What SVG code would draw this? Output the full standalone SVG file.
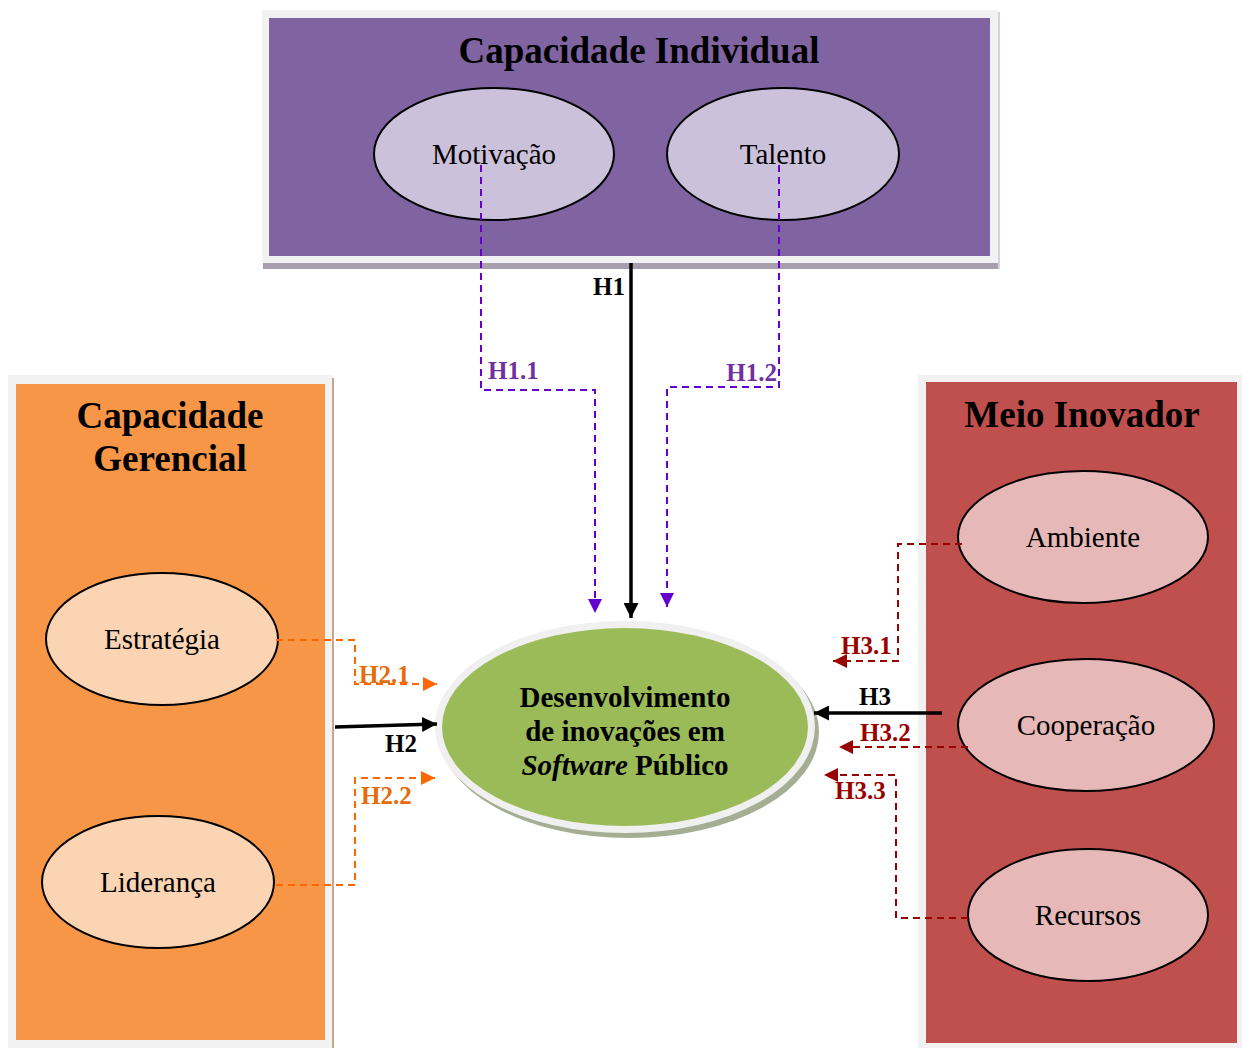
<svg xmlns="http://www.w3.org/2000/svg" width="1242" height="1048" viewBox="0 0 1242 1048">
  <style>
    .title { font-family: "Liberation Serif", "Times New Roman", serif; font-weight: bold; font-size: 37px; fill: #000; text-anchor: middle; }
    .item { font-family: "Liberation Serif", "Times New Roman", serif; font-size: 29px; fill: #000; text-anchor: middle; }
    .core { font-family: "Liberation Serif", "Times New Roman", serif; font-weight: bold; font-size: 29px; fill: #000; text-anchor: middle; }
    .lbl { font-family: "Liberation Serif", "Times New Roman", serif; font-weight: bold; font-size: 25px; }
    .frame { fill: #f2f2f2; }
    .node { stroke: #000; stroke-width: 2; }
    .solid { fill: none; stroke: #000; stroke-width: 3.5; }
    .dash { fill: none; stroke-width: 2; stroke-dasharray: 7 5; }
    .purple { stroke: #6600cc; }
    .orange { stroke: #ff6600; }
    .red { stroke: #990000; }
  </style>
  <defs>
    <marker id="arrBlack" markerUnits="userSpaceOnUse" viewBox="0 0 14 14" markerWidth="15" markerHeight="15" refX="14" refY="7" orient="auto">
      <path d="M0,0 L14,7 L0,14 z" fill="#000"/>
    </marker>
    <marker id="arrPurple" markerUnits="userSpaceOnUse" viewBox="0 0 14 14" markerWidth="14" markerHeight="14" refX="14" refY="7" orient="auto">
      <path d="M0,0 L14,7 L0,14 z" fill="#6600cc"/>
    </marker>
    <marker id="arrOrange" markerUnits="userSpaceOnUse" viewBox="0 0 14 14" markerWidth="14" markerHeight="14" refX="14" refY="7" orient="auto">
      <path d="M0,0 L14,7 L0,14 z" fill="#ff6600"/>
    </marker>
    <marker id="arrRed" markerUnits="userSpaceOnUse" viewBox="0 0 14 14" markerWidth="14" markerHeight="14" refX="14" refY="7" orient="auto">
      <path d="M0,0 L14,7 L0,14 z" fill="#990000"/>
    </marker>
  </defs>

  <rect width="1242" height="1048" fill="#ffffff"/>

  <!-- Capacidade Individual -->
  <g id="capacidade-individual">
    <rect x="263" y="263" width="737" height="6" fill="#a79fb0"/>
    <rect x="998" y="12" width="2" height="257" fill="#d8d0e0"/>
    <rect class="frame" x="262" y="10" width="736" height="253"/>
    <rect x="269" y="18" width="721" height="238" fill="#8064a2"/>
    <text class="title" x="639" y="63">Capacidade Individual</text>
  </g>
  <g id="motivacao">
    <ellipse class="node" cx="494" cy="154" rx="120" ry="66" fill="#ccc1da"/>
    <text class="item" x="494" y="164">Motivação</text>
  </g>
  <g id="talento">
    <ellipse class="node" cx="783" cy="154" rx="116" ry="66" fill="#ccc1da"/>
    <text class="item" x="783" y="164">Talento</text>
  </g>

  <!-- Capacidade Gerencial -->
  <g id="capacidade-gerencial">
    <rect class="frame" x="8" y="375" width="325" height="673"/>
    <rect x="332" y="378" width="2" height="670" fill="#c9a88a"/>
    <rect x="16" y="384" width="309" height="656" fill="#f79646"/>
    <text class="title" x="170" y="428">Capacidade</text>
    <text class="title" x="170" y="471">Gerencial</text>
  </g>
  <g id="estrategia">
    <ellipse class="node" cx="162" cy="639" rx="116" ry="66" fill="#fbd4b4"/>
    <text class="item" x="162" y="649">Estratégia</text>
  </g>
  <g id="lideranca">
    <ellipse class="node" cx="158" cy="882" rx="116" ry="66" fill="#fbd4b4"/>
    <text class="item" x="158" y="892">Liderança</text>
  </g>

  <!-- Meio Inovador -->
  <g id="meio-inovador">
    <rect class="frame" x="918" y="375" width="324" height="673"/>
    <rect x="926" y="382" width="311" height="661" fill="#c0504d"/>
    <text class="title" x="1082" y="427">Meio Inovador</text>
  </g>
  <g id="ambiente">
    <ellipse class="node" cx="1083" cy="537" rx="125" ry="66" fill="#e6b9b8"/>
    <text class="item" x="1083" y="547">Ambiente</text>
  </g>
  <g id="cooperacao">
    <ellipse class="node" cx="1086" cy="725" rx="128" ry="66" fill="#e6b9b8"/>
    <text class="item" x="1086" y="735">Cooperação</text>
  </g>
  <g id="recursos">
    <ellipse class="node" cx="1088" cy="915" rx="120" ry="66" fill="#e6b9b8"/>
    <text class="item" x="1088" y="925">Recursos</text>
  </g>

  <!-- Desenvolvimento de inovações em Software Público -->
  <g id="desenvolvimento">
    <ellipse cx="629" cy="732" rx="190" ry="106" fill="#a5ae93"/>
    <ellipse cx="625" cy="727" rx="190" ry="106" fill="#f0f0f0"/>
    <ellipse cx="625" cy="727" rx="183" ry="99" fill="#9bbb59"/>
    <text class="core" x="625" y="707">Desenvolvimento</text>
    <text class="core" x="625" y="741">de inovações em</text>
    <text class="core" x="625" y="775"><tspan font-style="italic">Software</tspan> Público</text>
  </g>

  <!-- Hypothesis connectors -->
  <g id="connectors">
    <!-- H1 -->
    <line class="solid" x1="631" y1="263" x2="631" y2="618" marker-end="url(#arrBlack)"/>
    <text class="lbl" x="625" y="295" text-anchor="end" fill="#000">H1</text>
    <path class="dash purple" d="M481,165 V390 H595 V613" marker-end="url(#arrPurple)"/>
    <text class="lbl" x="488" y="379" fill="#7030a0">H1.1</text>
    <path class="dash purple" d="M779,165 V387 H667 V607" marker-end="url(#arrPurple)"/>
    <text class="lbl" x="777" y="381" text-anchor="end" fill="#7030a0">H1.2</text>

    <!-- H2 -->
    <line class="solid" x1="335" y1="727" x2="437" y2="724" marker-end="url(#arrBlack)"/>
    <text class="lbl" x="401" y="752" text-anchor="middle" fill="#000">H2</text>
    <path class="dash orange" d="M276,640 H355 V684 H437" marker-end="url(#arrOrange)"/>
    <text class="lbl" x="359" y="683" fill="#e46c0a">H2.1</text>
    <path class="dash orange" d="M276,885 H355 V778 H435" marker-end="url(#arrOrange)"/>
    <text class="lbl" x="361" y="804" fill="#e46c0a">H2.2</text>

    <!-- H3 -->
    <line class="solid" x1="942" y1="713" x2="814" y2="713" marker-end="url(#arrBlack)"/>
    <text class="lbl" x="875" y="705" text-anchor="middle" fill="#000">H3</text>
    <path class="dash red" d="M962,544 H898 V661 H833" marker-end="url(#arrRed)"/>
    <text class="lbl" x="841" y="654" fill="#990000">H3.1</text>
    <path class="dash red" d="M968,747 H839" marker-end="url(#arrRed)"/>
    <text class="lbl" x="860" y="741" fill="#990000">H3.2</text>
    <path class="dash red" d="M968,918 H896 V775 H824" marker-end="url(#arrRed)"/>
    <text class="lbl" x="835" y="799" fill="#990000">H3.3</text>
  </g>
</svg>
